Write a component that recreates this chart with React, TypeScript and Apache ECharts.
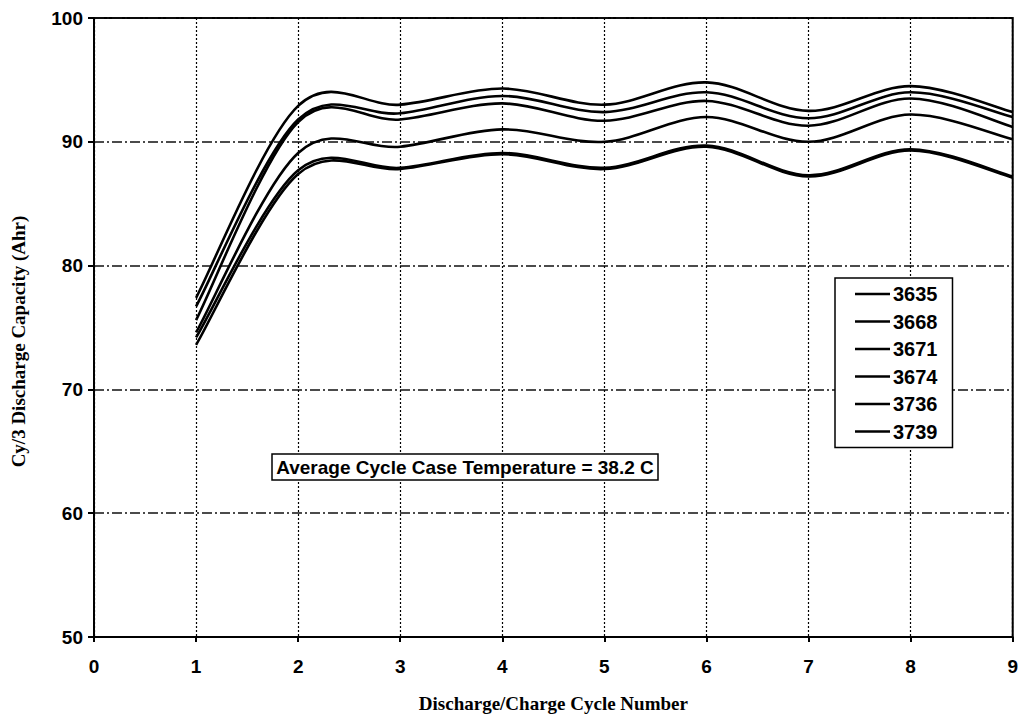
import React, { useEffect, useRef } from 'react';
import * as echarts from 'echarts';

const cycles = [1, 2, 3, 4, 5, 6, 7, 8, 9];
const seriesNames = ['3635', '3668', '3671', '3674', '3736', '3739'];
const s3635 = [77.4, 92.9, 93.0, 94.3, 93.0, 94.8, 92.5, 94.5, 92.4];
const s3668 = [76.7, 91.8, 92.3, 93.7, 92.4, 94.0, 91.9, 94.0, 92.0];
const s3671 = [75.6, 91.6, 91.8, 93.1, 91.7, 93.3, 91.3, 93.5, 91.2];
const s3674 = [74.6, 89.1, 89.6, 91.0, 90.0, 92.0, 90.0, 92.2, 90.2];
const s3736 = [74.2, 87.7, 87.9, 89.1, 87.9, 89.7, 87.3, 89.4, 87.2];
const s3739 = [73.6, 87.4, 87.8, 89.0, 87.8, 89.6, 87.2, 89.3, 87.1];
const allSeries = [s3635, s3668, s3671, s3674, s3736, s3739];
const annotation = 'Average Cycle Case Temperature = 38.2 C';
const xTitle = 'Discharge/Charge Cycle Number';
const yTitle = 'Cy/3 Discharge Capacity (Ahr)';

function buildPath(pts: number[][]): string {
  let d = `M${pts[0][0]},${pts[0][1]}`;
  const n = pts.length;
  for (let i = 0; i < n - 1; i++) {
    const p0 = pts[Math.max(i - 1, 0)];
    const p1 = pts[i];
    const p2 = pts[i + 1];
    const p3 = pts[Math.min(i + 2, n - 1)];
    const c1x = p1[0] + (p2[0] - p0[0]) / 6;
    const c1y = p1[1] + (p2[1] - p0[1]) / 6;
    const c2x = p2[0] - (p3[0] - p1[0]) / 6;
    const c2y = p2[1] - (p3[1] - p1[1]) / 6;
    d += ` C${c1x},${c1y} ${c2x},${c2y} ${p2[0]},${p2[1]}`;
  }
  return d;
}

export default function App() {
  const ref = useRef<HTMLDivElement>(null);
  useEffect(() => {
    const chart = echarts.init(ref.current!, null, { renderer: 'svg' });
    const tickFont = { fontFamily: 'Liberation Sans', fontWeight: 'bold' as const, fontSize: 19, color: '#000' };
    const titleFont = { fontFamily: 'Liberation Serif', fontWeight: 'bold' as const, fontSize: 19, color: '#000' };
    chart.setOption({
      animation: false,
      backgroundColor: '#fff',
      grid: { left: 94, right: 6, top: 18, bottom: 82, show: true, borderColor: '#000', borderWidth: 2 },
      xAxis: {
        type: 'value', min: 0, max: 9, interval: 1,
        name: xTitle, nameLocation: 'middle', nameGap: 57, nameTextStyle: titleFont,
        axisLine: { lineStyle: { color: '#000', width: 2 } },
        axisTick: { show: true, length: 5, lineStyle: { color: '#000', width: 2 } },
        axisLabel: { ...tickFont, margin: 20 },
        splitLine: { show: true, lineStyle: { color: '#000', width: 1.2, type: [2, 2] } },
      },
      yAxis: {
        type: 'value', min: 50, max: 100, interval: 10,
        name: yTitle, nameLocation: 'middle', nameGap: 66,
        nameTextStyle: { ...titleFont, padding: [0, 28, 0, 0] },
        axisLine: { show: true, lineStyle: { color: '#000', width: 2 } },
        axisTick: { show: true, length: 6, lineStyle: { color: '#000', width: 2 } },
        axisLabel: { ...tickFont, margin: 11 },
        splitLine: { show: true, lineStyle: { color: '#111', width: 1.5, type: [10, 3, 2, 3] } },
      },
      legend: {
        orient: 'vertical', left: 835, top: 278,
        padding: [6, 15, 6, 20], itemGap: 7.5,
        itemWidth: 35, itemHeight: 2.5, icon: 'rect',
        borderColor: '#000', borderWidth: 1.5, backgroundColor: '#fff',
        textStyle: { fontFamily: 'Liberation Sans', fontWeight: 'bold', fontSize: 20, color: '#000', padding: [0, 0, 0, -2] },
        data: seriesNames,
      },
      graphic: [
        {
          type: 'rect', x: 272, y: 454, z: 100,
          shape: { x: 0, y: 0, width: 386, height: 26 },
          style: { fill: '#fff', stroke: '#000', lineWidth: 1.5 },
        },
        {
          type: 'text', x: 465, y: 467, z: 101,
          style: {
            text: annotation, align: 'center', verticalAlign: 'middle',
            font: 'bold 19px "Liberation Sans"', fill: '#000',
          },
        },
      ],
      series: seriesNames.map((name, i) => ({
        name, type: 'custom', coordinateSystem: 'cartesian2d',
        itemStyle: { color: '#000' },
        encode: { x: 0, y: 1 },
        data: cycles.map((c, j) => [c, allSeries[i][j]]),
        renderItem: (params: any, api: any) => {
          if (params.dataIndex !== 0) return null;
          const pts = cycles.map((c, j) => api.coord([c, allSeries[i][j]]));
          return {
            type: 'path',
            shape: { pathData: buildPath(pts) },
            style: { stroke: '#000', lineWidth: 2.6, fill: 'none' },
          };
        },
      })),
    });
    return () => chart.dispose();
  }, []);
  return <div ref={ref} style={{ position: 'fixed', left: 0, top: 0, width: 1021, height: 719, background: '#fff' }} />;
}
